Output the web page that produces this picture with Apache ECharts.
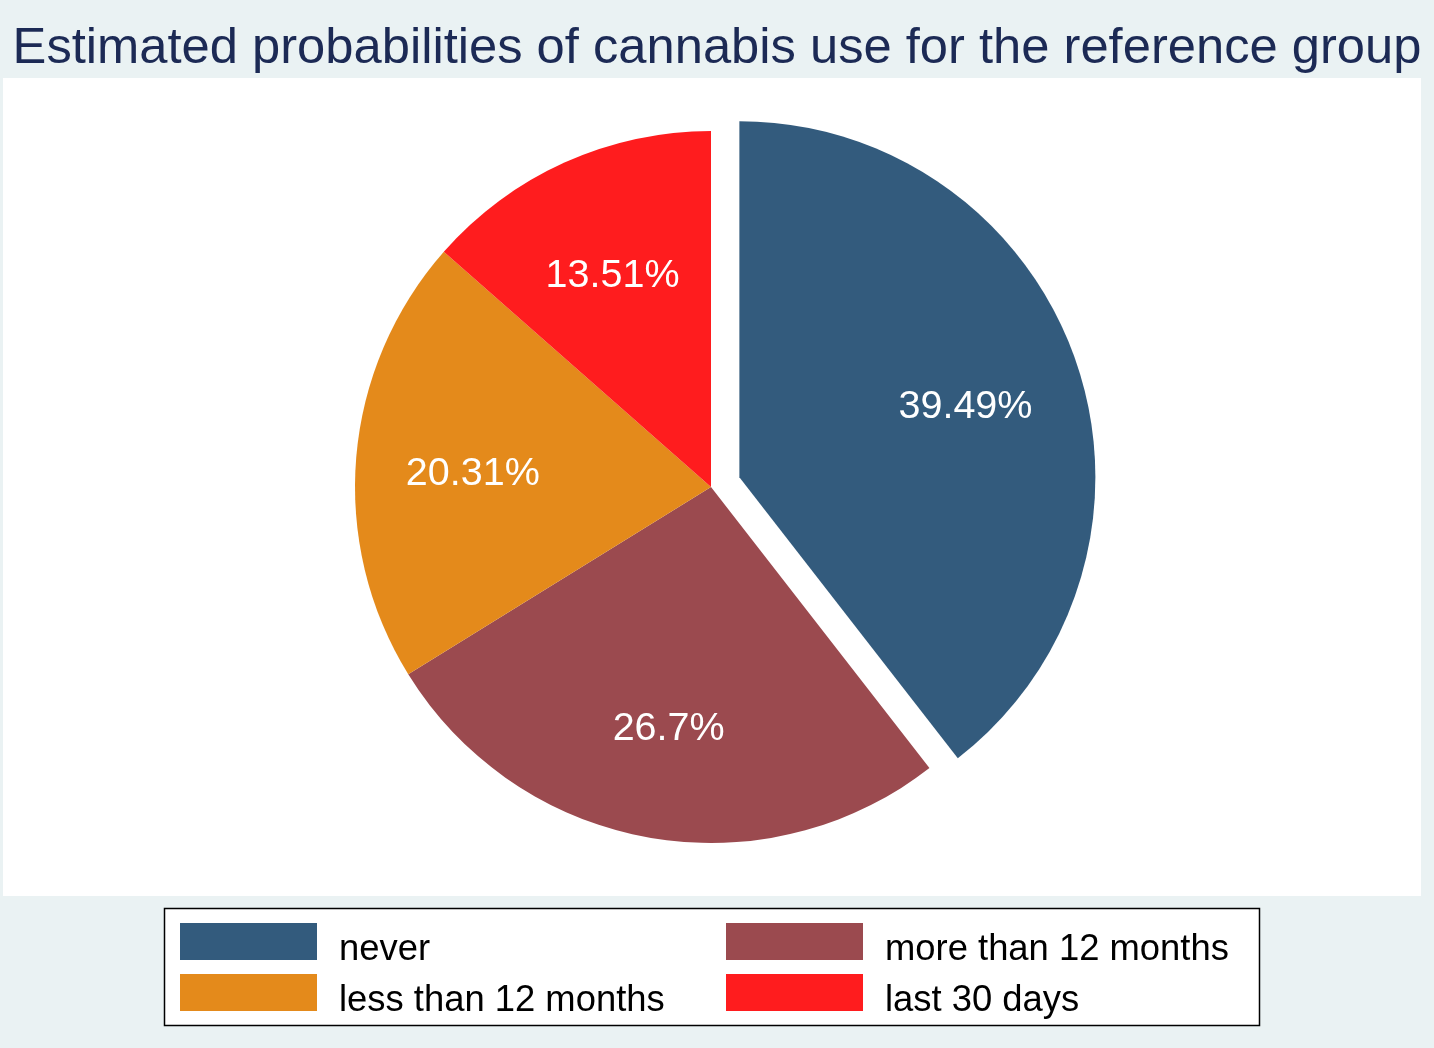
<!DOCTYPE html>
<html>
<head>
<meta charset="utf-8">
<script src="https://cdn.jsdelivr.net/npm/echarts@6/dist/echarts.min.js"></script>
<style>
  html, body { margin: 0; padding: 0; background: #eaf2f3; }
  #chart { width: 1434px; height: 1048px; }
</style>
</head>
<body>
<div id="chart"></div>
<script>
// categories in plotting order (clockwise from 12 o'clock)
var categories = ['never', 'more than 12 months', 'less than 12 months', 'last 30 days'];
var probs = [39.49, 26.7, 20.31, 13.51];
var sliceColors = ['#335b7d', '#9b4a4f', '#e48a1b', '#ff1c1e'];
var exploded = 'never';

var fontFam = 'Arial, "Liberation Sans", Helvetica, sans-serif';
var cx = 711, cy = 487, R = 356;

var chart = echarts.init(document.getElementById('chart'));

var pieData = categories.map(function (c, i) {
    return {
        name: c,
        value: probs[i],
        selected: c === exploded,
        itemStyle: { color: sliceColors[i] }
    };
});
var labelData = categories.map(function (c, i) {
    return {
        name: c,
        value: probs[i],
        selected: c === exploded
    };
});

// one legend per entry so the two columns line up like the original
var legendPos = [
    { left: 180, top: 923 },
    { left: 726, top: 923 },
    { left: 180, top: 974 },
    { left: 726, top: 974 }
];
var legends = categories.map(function (c, i) {
    return {
        data: [c],
        left: legendPos[i].left,
        top: legendPos[i].top,
        padding: 0,
        icon: 'rect',
        itemWidth: 137,
        itemHeight: 37,
        selectedMode: false,
        formatter: '{t|{name}}',
        textStyle: {
            fontSize: 36.4,
            fontFamily: fontFam,
            color: '#000',
            rich: {
                t: {
                    fontSize: 36.4,
                    fontFamily: fontFam,
                    color: '#000',
                    padding: [16, 0, 0, 17]
                }
            }
        }
    };
});

var option = {
    backgroundColor: '#eaf2f3',
    animation: false,
    title: {
        text: 'Estimated probabilities of cannabis use for the reference group',
        left: 'center',
        top: 24,
        padding: 0,
        textStyle: {
            fontSize: 50.7,
            fontWeight: 'normal',
            fontFamily: fontFam,
            color: '#1c2a55'
        }
    },
    legend: legends,
    graphic: [
        {
            type: 'rect',
            z: 0,
            shape: { x: 3, y: 78, width: 1418, height: 818 },
            style: { fill: '#ffffff' },
            silent: true
        },
        {
            type: 'rect',
            z: 0,
            shape: { x: 164.5, y: 908.5, width: 1095, height: 117 },
            style: { fill: '#ffffff', stroke: '#000', lineWidth: 1.5 },
            silent: true
        }
    ],
    series: [
        {
            type: 'pie',
            center: [cx, cy],
            radius: [0, R],
            startAngle: 90,
            clockwise: true,
            selectedMode: 'single',
            selectedOffset: 30,
            avoidLabelOverlap: false,
            silent: true,
            label: { show: false },
            labelLine: { show: false },
            itemStyle: { borderWidth: 0 },
            emphasis: { disabled: true },
            data: pieData
        },
        {
            // transparent ring used only to place the labels at ~2/3 radius
            type: 'pie',
            center: [cx, cy],
            radius: [116, R],
            startAngle: 90,
            clockwise: true,
            selectedMode: 'single',
            selectedOffset: 30,
            avoidLabelOverlap: false,
            silent: true,
            itemStyle: { color: 'rgba(0,0,0,0)', borderWidth: 0 },
            select: { itemStyle: { color: 'rgba(0,0,0,0)', borderWidth: 0 } },
            emphasis: { disabled: true },
            label: {
                show: true,
                position: 'inner',
                fontSize: 39.5,
                fontFamily: fontFam,
                color: '#ffffff',
                formatter: function (p) { return '{v|' + p.value + '%}'; },
                rich: {
                    v: {
                        fontSize: 39.5,
                        fontFamily: fontFam,
                        color: '#ffffff',
                        padding: [14, 0, 0, 0]
                    }
                }
            },
            labelLine: { show: false },
            data: labelData
        }
    ]
};

chart.setOption(option);
</script>
</body>
</html>
